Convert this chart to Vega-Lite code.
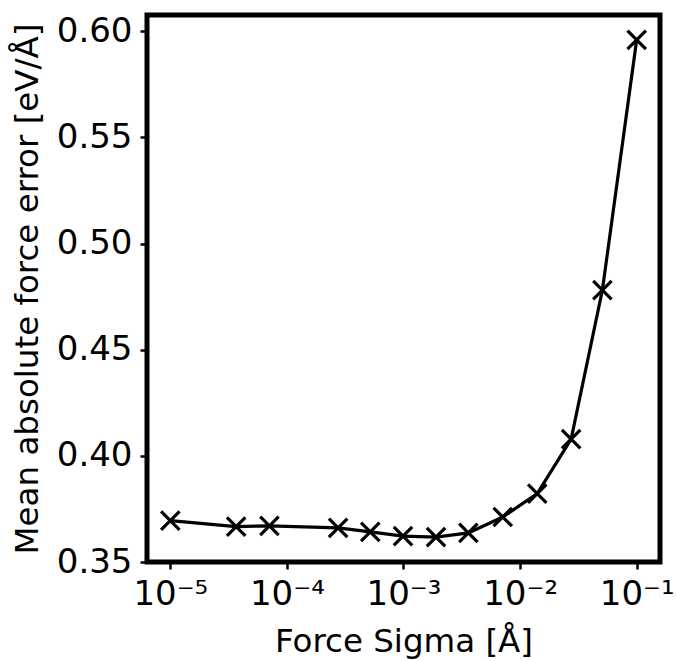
{
  "$schema": "https://vega.github.io/schema/vega-lite/v6.json",
  "width": 513,
  "height": 547,
  "autosize": {"type": "none"},
  "padding": {"left": 147, "top": 15, "right": 16, "bottom": 99},
  "background": "white",
  "config": {
    "view": {"stroke": "black", "strokeWidth": 5},
    "font": "DejaVu Sans",
    "axis": {
      "domain": false,
      "grid": false,
      "ticks": true,
      "tickSize": 7,
      "tickWidth": 2.5,
      "tickColor": "black",
      "labelColor": "black",
      "titleColor": "black",
      "labelFont": "DejaVu Sans",
      "titleFont": "DejaVu Sans",
      "labelFontSize": 34,
      "titleFontSize": 32.5,
      "titleFontWeight": "normal"
    }
  },
  "data": {
    "values": [
      {"sigma": 0.00001, "mae": 0.3695},
      {"sigma": 0.0000367, "mae": 0.3667},
      {"sigma": 0.0000708, "mae": 0.3670},
      {"sigma": 0.000275, "mae": 0.3661},
      {"sigma": 0.000519, "mae": 0.3642},
      {"sigma": 0.00099, "mae": 0.3622},
      {"sigma": 0.0019, "mae": 0.3617},
      {"sigma": 0.0036, "mae": 0.3637},
      {"sigma": 0.0071, "mae": 0.3712},
      {"sigma": 0.01403, "mae": 0.3822},
      {"sigma": 0.0274, "mae": 0.4079},
      {"sigma": 0.0508, "mae": 0.4781},
      {"sigma": 0.1, "mae": 0.5960}
    ]
  },
  "encoding": {
    "x": {
      "field": "sigma",
      "type": "quantitative",
      "scale": {"type": "log", "domain": [0.0000063096, 0.15849], "nice": false},
      "axis": {
        "title": "Force Sigma [Å]",
        "values": [0.00001, 0.0001, 0.001, 0.01, 0.1],
        "labelExpr": "'10⁻' + ['⁰','¹','²','³','⁴','⁵'][round(-log(datum.value)/LN10)]",
        "labelPadding": 8,
        "titlePadding": 14
      }
    },
    "y": {
      "field": "mae",
      "type": "quantitative",
      "scale": {"domain": [0.35, 0.6077], "nice": false, "zero": false},
      "axis": {
        "title": "Mean absolute force error [eV/Å]",
        "values": [0.35, 0.40, 0.45, 0.50, 0.55, 0.60],
        "format": ".2f",
        "labelPadding": 8,
        "titlePadding": 12
      }
    }
  },
  "layer": [
    {"mark": {"type": "line", "color": "black", "strokeWidth": 3.2}},
    {"mark": {"type": "point", "shape": "M-1,-1L1,1M-1,1L1,-1", "filled": false, "stroke": "black", "strokeWidth": 3.2, "size": 340, "opacity": 1}}
  ]
}
